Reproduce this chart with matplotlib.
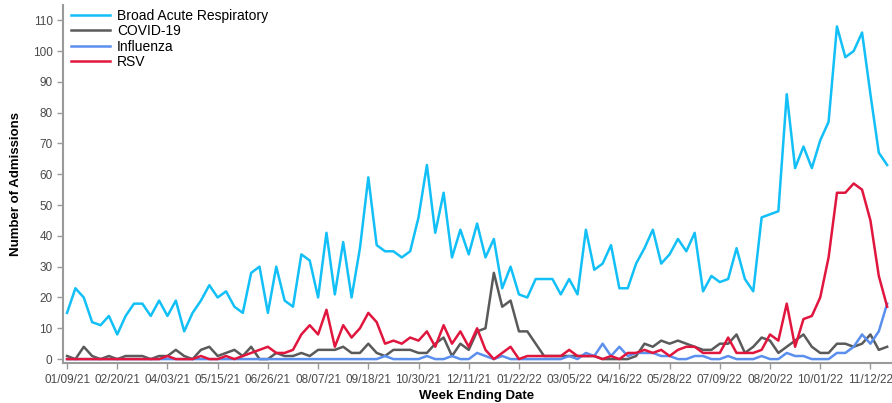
import matplotlib
matplotlib.use("Agg")
import matplotlib.pyplot as plt
import matplotlib.dates as mdates
import pandas as pd

plt.rcParams['font.family'] = ['Liberation Sans', 'DejaVu Sans']

# недельные данные, с 01/09/21 по 11/26/22
weeks = pd.date_range("2021-01-09", periods=99, freq="7D")

broad = [15, 23, 20, 12, 11, 14, 8, 14, 18, 18,
         14, 19, 14, 19, 9, 15, 19, 24, 20, 22,
         17, 15, 28, 30, 15, 30, 19, 17, 34, 32,
         20, 41, 21, 38, 20, 36, 59, 37, 35, 35,
         33, 35, 46, 63, 41, 54, 33, 42, 34, 44,
         33, 39, 23, 30, 21, 20, 26, 26, 26, 21,
         26, 21, 42, 29, 31, 37, 23, 23, 31, 36,
         42, 31, 34, 39, 35, 41, 22, 27, 25, 26,
         36, 26, 22, 46, 47, 48, 86, 62, 69, 62,
         71, 77, 108, 98, 100, 106, 86, 67, 63]

covid = [1, 0, 4, 1, 0, 1, 0, 1, 1, 1,
         0, 1, 1, 3, 1, 0, 3, 4, 1, 2,
         3, 1, 4, 0, 0, 2, 1, 1, 2, 1,
         3, 3, 3, 4, 2, 2, 5, 2, 1, 3,
         3, 3, 2, 2, 5, 7, 1, 5, 3, 9,
         10, 28, 17, 19, 9, 9, 5, 1, 1, 1,
         1, 1, 1, 1, 0, 0, 0, 0, 1, 5,
         4, 6, 5, 6, 5, 4, 3, 3, 5, 5,
         8, 2, 4, 7, 6, 2, 4, 6, 8, 4,
         2, 2, 5, 5, 4, 5, 8, 3, 4]

flu = [0, 0, 0, 0, 0, 0, 0, 0, 0, 0,
       0, 0, 0, 0, 0, 0, 0, 0, 0, 0,
       0, 0, 0, 0, 0, 0, 0, 0, 0, 0,
       0, 0, 0, 0, 0, 0, 0, 0, 1, 0,
       0, 0, 0, 1, 0, 0, 1, 0, 0, 2,
       1, 0, 1, 0, 0, 0, 0, 0, 0, 0,
       1, 0, 2, 1, 5, 1, 4, 1, 2, 2,
       2, 1, 1, 0, 0, 1, 1, 0, 0, 1,
       0, 0, 0, 1, 0, 0, 2, 1, 1, 0,
       0, 0, 2, 2, 4, 8, 5, 9, 18]

rsv = [0, 0, 0, 0, 0, 0, 0, 0, 0, 0,
       0, 0, 1, 0, 0, 0, 1, 0, 0, 1,
       0, 1, 2, 3, 4, 2, 2, 3, 8, 11,
       8, 16, 4, 11, 7, 10, 15, 12, 5, 6,
       5, 7, 6, 9, 4, 11, 5, 9, 4, 10,
       3, 0, 2, 4, 0, 1, 1, 1, 1, 1,
       3, 1, 1, 1, 0, 1, 0, 2, 2, 3,
       2, 3, 1, 3, 4, 4, 2, 2, 2, 7,
       2, 2, 2, 3, 8, 6, 18, 4, 13, 14,
       20, 33, 54, 54, 57, 55, 45, 27, 17]

fig = plt.figure(figsize=(8.92, 4.03), dpi=100)
ax = fig.add_axes([0.0706, 0.099, 0.928, 0.889])

ax.plot(weeks, broad, color="#12BFF6", lw=1.8, label="Broad Acute Respiratory")
ax.plot(weeks, covid, color="#5a5a5a", lw=1.8, label="COVID-19")
ax.plot(weeks, flu, color="#5B8FEE", lw=1.8, label="Influenza")
ax.plot(weeks, rsv, color="#E0163E", lw=1.8, label="RSV")

ax.set_ylim(-1.3, 115)
ax.set_yticks(range(0, 111, 10))
ax.set_xlim(weeks[0] - pd.Timedelta(days=3.4), weeks[-1] + pd.Timedelta(days=3))
ax.set_xticks(weeks[::6])
ax.xaxis.set_major_formatter(mdates.DateFormatter("%m/%d/%y"))

for s in ["top", "right"]:
    ax.spines[s].set_visible(False)
for s in ["left", "bottom"]:
    ax.spines[s].set_color("#9a9a9a")
    ax.spines[s].set_linewidth(1.5)
ax.tick_params(colors="#9a9a9a", labelcolor="#4a4a4a", labelsize=8.5, length=4, width=1)

ax.set_ylabel("Number of Admissions", fontsize=9.5, fontweight="bold", labelpad=8)
ax.set_xlabel("Week Ending Date", fontsize=9.5, fontweight="bold", labelpad=3)

ax.legend(loc="upper left", bbox_to_anchor=(0.0, 1.012), frameon=False,
          fontsize=10, handlelength=2.8, handletextpad=0.5, labelspacing=0.1,
          borderaxespad=0.2)

fig.savefig("out.png", dpi=100)
